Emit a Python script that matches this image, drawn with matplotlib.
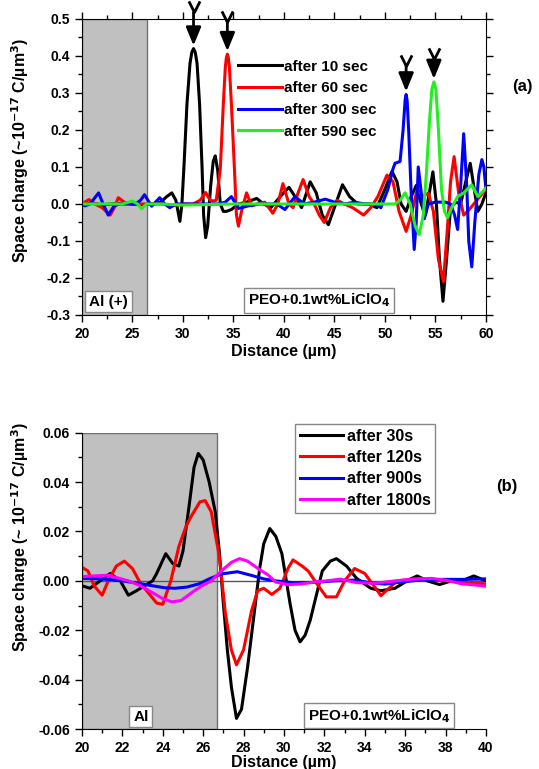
import matplotlib
matplotlib.use('Agg')
import matplotlib.pyplot as plt
from matplotlib.path import Path
from matplotlib.ticker import MultipleLocator, FormatStrFormatter

plt.rcParams['font.family'] = ['Liberation Sans', 'DejaVu Sans']
plt.rcParams['font.weight'] = 'bold'
plt.rcParams['axes.labelweight'] = 'bold'
plt.rcParams['axes.unicode_minus'] = False
plt.rcParams['mathtext.default'] = 'bf'

# ---- panel (a) data ----
labels_a = ['after 10 sec', 'after 60 sec', 'after 300 sec', 'after 590 sec']

x_a10 = [20, 21, 22, 23, 24, 25, 26, 27, 27.8, 28.4, 28.9, 29.3, 29.7, 29.9, 30.1, 30.4, 30.7,
         30.88, 31.05, 31.22, 31.4, 31.65, 31.9, 32.05, 32.25, 32.45, 32.75, 33.0, 33.2, 33.45,
         33.7, 34.0, 34.3, 34.8, 35.5, 36.3, 37.3, 38.0, 38.7, 39.8, 40.5, 41.1, 41.75, 42.6,
         43.2, 43.8, 44.4, 45.0, 45.8, 46.5, 47.3, 48.4, 49.2, 50.0, 50.7, 51.2, 51.6, 52.1,
         52.6, 53.1, 53.6, 54.0, 54.4, 54.75, 55.1, 55.4, 55.75, 56.1, 56.5, 57.0, 57.5, 58.0,
         58.45, 58.9, 59.2, 59.6, 60]
y_a10 = [0.0, 0.002, -0.002, 0.0, 0.002, 0.0, -0.002, 0.0, 0.005, 0.02, 0.03, 0.01, -0.047,
         0.0, 0.1, 0.27, 0.38, 0.41, 0.42, 0.41, 0.38, 0.27, 0.095, -0.03, -0.091, -0.06, 0.05,
         0.115, 0.13, 0.09, 0.0, -0.02, -0.02, -0.015, 0.0, 0.005, 0.015, 0.0, -0.01, 0.025,
         0.045, 0.02, -0.01, 0.06, 0.03, -0.03, -0.056, -0.01, 0.052, 0.02, 0.0, 0.0, -0.01,
         0.04, 0.088, 0.06, 0.0, -0.02, 0.02, 0.05, 0.0, -0.03, 0.03, 0.087, 0.0, -0.15, -0.263,
         -0.15, -0.01, 0.005, 0.0, 0.06, 0.11, 0.03, -0.02, 0.0, 0.03]

x_a60 = [20, 20.7, 21.3, 22.0, 22.8, 23.2, 23.6, 24.2, 25, 26, 27, 28, 29, 30, 31, 31.7,
         32.25, 32.7, 33.0, 33.3, 33.7, 34.0, 34.2, 34.3, 34.4, 34.5, 34.6, 34.8, 35.1, 35.3,
         35.5, 35.8, 36.3, 36.8, 37.4, 38.1, 38.9, 39.4, 39.9, 40.5, 40.9, 41.4, 41.9, 42.5,
         43.0, 43.5, 44.0, 44.6, 45.3, 46.0, 46.8, 47.9, 48.6, 49.3, 50.2, 50.8, 51.4, 52.1,
         52.6, 53.2, 53.8, 54.3, 54.8, 55.3, 55.8, 56.2, 56.5, 56.85, 57.3, 57.8, 58.2, 58.8,
         59.4, 60]
y_a60 = [0.0, 0.012, 0.0, -0.01, -0.03, -0.01, 0.017, 0.005, 0.0, 0.0, 0.0, 0.0, -0.005, 0.0,
         0.0, 0.01, 0.031, 0.01, 0.008, 0.01, 0.095, 0.27, 0.37, 0.395, 0.405, 0.395, 0.37,
         0.27, 0.095, -0.03, -0.06, -0.02, 0.03, -0.005, 0.0, 0.005, -0.025, 0.0, 0.055, 0.0,
         -0.01, 0.03, 0.066, 0.02, 0.0, -0.03, -0.05, -0.01, 0.01, 0.0, -0.01, -0.03, -0.01,
         0.02, 0.078, 0.06, -0.02, -0.074, -0.03, 0.04, 0.02, 0.03, -0.02, -0.15, -0.21, -0.06,
         0.06, 0.128, 0.03, -0.03, -0.02, 0.0, 0.02, 0.04]

x_a300 = [20, 20.3, 20.8, 21.65, 22.1, 22.6, 23.2, 23.7, 24.5, 25.3, 25.8, 26.2, 26.9, 27.7,
          28.2, 28.7, 29.3, 30.5, 31.5, 32.5, 33.5, 34.2, 34.8, 35.5, 36.5, 37.5, 38.5, 39.3,
          40.1, 41.1, 42.0, 43.0, 44.1, 45.0, 46.0, 47.0, 48.0, 49.0, 49.6, 50.3, 50.8, 51.0,
          51.5, 51.8, 52.0, 52.1, 52.2, 52.35, 52.6, 52.9, 53.1, 53.3, 53.6, 53.9, 54.3, 55.0,
          56.0, 56.5, 56.9, 57.2, 57.5, 57.8, 58.1, 58.3, 58.6, 58.9, 59.3, 59.6, 59.8, 60]
y_a300 = [0.0, -0.005, 0.0, 0.03, 0.0, -0.03, -0.005, 0.0, 0.0, 0.0, 0.01, 0.025, -0.006, 0.017,
          0.0, -0.01, 0.0, 0.0, 0.0, 0.0, 0.0, 0.005, 0.02, -0.012, -0.005, 0.0, 0.0, 0.0,
          -0.015, 0.02, 0.0, 0.005, 0.013, 0.005, 0.0, 0.005, 0.0, 0.0, -0.01, 0.04, 0.095, 0.11,
          0.115, 0.2, 0.28, 0.296, 0.28, 0.2, 0.03, -0.123, -0.05, 0.1, 0.03, -0.04, 0.0, 0.005,
          0.005, 0.0, -0.03, -0.069, 0.05, 0.19, 0.05, -0.1, -0.17, -0.05, 0.08, 0.12, 0.1, 0.04]

x_a590 = [20, 22, 24, 25.0, 25.5, 25.9, 26.4, 28, 30, 35, 40, 45, 50, 51.0, 51.5, 52.0, 52.5,
          53.0, 53.4, 53.8, 54.1, 54.4, 54.65, 54.85, 55.05, 55.3, 55.6, 55.9, 56.2, 56.6, 57.2,
          57.8, 58.6, 59.2, 60]
y_a590 = [0.0, 0.0, 0.0, 0.008, 0.0, -0.013, 0.0, 0.0, -0.003, 0.0, 0.0, 0.0, 0.0, 0.0, 0.01,
          0.03, 0.0, -0.06, -0.083, -0.03, 0.08, 0.22, 0.31, 0.33, 0.31, 0.2, 0.04, -0.02, -0.037,
          -0.01, 0.02, 0.03, 0.052, 0.02, 0.043]

# ---- panel (b) data ----
labels_b = ['after 30s', 'after 120s', 'after 900s', 'after 1800s']

x_b30 = [20, 20.4, 20.9, 21.4, 21.9, 22.3, 22.7, 23.1, 23.5, 23.7, 24.15, 24.5, 24.8, 25.0,
         25.3, 25.55, 25.76, 26.0, 26.3, 26.6, 26.8, 27.0, 27.2, 27.4, 27.65, 27.9, 28.2, 28.5,
         28.8, 29.0, 29.3, 29.6, 29.9, 30.3, 30.55, 30.8, 31.05, 31.3, 31.6, 31.9, 32.3, 32.6,
         33.1, 33.6, 34.3, 34.8, 35.5, 36.2, 36.6, 37.1, 37.7, 38.3, 38.8, 39.4, 40]
y_b30 = [-0.002, -0.003, 0.0, 0.003, 0.0, -0.0058, -0.004, -0.002, 0.0, 0.003, 0.011, 0.007,
         0.006, 0.012, 0.03, 0.046, 0.0516, 0.049, 0.04, 0.028, 0.012, -0.009, -0.028, -0.043,
         -0.0557, -0.052, -0.035, -0.015, 0.005, 0.015, 0.0212, 0.018, 0.011, -0.009, -0.02,
         -0.0247, -0.022, -0.016, -0.006, 0.004, 0.008, 0.009, 0.006, 0.001, -0.003, -0.004,
         -0.003, 0.0005, 0.002, 0.0, -0.0015, 0.0, 0.0, 0.002, 0.0]

x_b120 = [20, 20.3, 20.6, 21.0, 21.3, 21.7, 22.1, 22.5, 22.9, 23.3, 23.7, 24.0, 24.4, 24.8,
          25.15, 25.4, 25.84, 26.1, 26.4, 26.8, 27.1, 27.4, 27.65, 28.0, 28.4, 28.7, 29.0, 29.4,
          29.8, 30.2, 30.45, 30.9, 31.2, 31.7, 32.1, 32.6, 33.0, 33.5, 34.0, 34.5, 34.8, 35.2,
          35.6, 36.6, 37.6, 38.8, 40]
y_b120 = [0.0055, 0.004, -0.002, -0.0058, 0.0, 0.006, 0.008, 0.005, -0.001, -0.005, -0.009,
          -0.0095, 0.0, 0.014, 0.022, 0.026, 0.032, 0.0325, 0.028, 0.01, -0.013, -0.028, -0.034,
          -0.028, -0.012, -0.004, -0.003, -0.0055, -0.003, 0.005, 0.0085, 0.006, 0.004, -0.002,
          -0.0065, -0.0065, 0.0, 0.005, 0.003, -0.0025, -0.006, -0.003, 0.0, 0.0008, 0.0005,
          -0.0005, -0.0012]

x_b900 = [20, 21, 22, 22.8, 23.5, 24.1, 24.6, 25.2, 25.8, 26.3, 26.9, 27.7, 28.4, 29.0, 29.6,
          30.5, 31.5, 32.5, 33.5, 34.3, 35.0, 35.8, 36.8, 37.9, 39.0, 40]
y_b900 = [0.001, 0.0008, 0.0, -0.001, -0.002, -0.0028, -0.003, -0.0025, -0.0012, 0.0008, 0.0028,
          0.0037, 0.0022, 0.0008, 0.0, -0.0008, -0.0006, 0.0, 0.0003, -0.0008, -0.0013, -0.0005,
          0.0004, 0.0006, 0.0006, 0.0008]

x_b1800 = [20, 20.6, 21.3, 22.3, 22.9, 23.5, 24.0, 24.45, 24.9, 25.4, 25.9, 26.4, 26.9, 27.4,
           27.8, 28.2, 28.8, 29.2, 29.6, 30.2, 30.8, 31.5, 32.1, 32.8, 33.6, 34.5, 35.5, 36.4,
           37.3, 38.0, 38.8, 39.4, 40]
y_b1800 = [0.0017, 0.002, 0.0023, 0.0, -0.002, -0.0048, -0.0072, -0.0085, -0.008, -0.005,
           -0.0022, 0.0, 0.004, 0.0075, 0.009, 0.008, 0.0045, 0.0025, -0.0005, -0.0015, -0.0013,
           -0.0005, 0.0, 0.0007, -0.0007, -0.001, 0.0, 0.0007, 0.001, 0.0003, -0.0012, -0.0016,
           -0.0022]

colors_a = ['black', '#ff0000', '#0000ff', '#22ee22']
colors_b = ['black', '#ff0000', '#0000ff', '#ff00ff']

fig = plt.figure(figsize=(5.39, 7.69), dpi=100)
ax1 = fig.add_axes([0.152, 0.5904, 0.7495, 0.3849])
ax2 = fig.add_axes([0.152, 0.052, 0.7495, 0.3853])

box = dict(boxstyle='square,pad=0.25', facecolor='white', edgecolor='#888888', lw=1)

# ---- panel (a) ----
ax1.axvspan(20, 26.4, facecolor='#c0c0c0', edgecolor='#707070', lw=1, zorder=0)
series_a = [(x_a10, y_a10), (x_a60, y_a60), (x_a300, y_a300), (x_a590, y_a590)]
for (xs, ys), c, lab in zip(series_a, colors_a, labels_a):
    ax1.plot(xs, ys, color=c, lw=2.2, label=lab)

# arrows over the main peaks
arrow_len = [0.09, 0.08, 0.07, 0.055]
vmark = Path([(-0.5, 1), (0, 0), (0.5, 1)], [Path.MOVETO, Path.LINETO, Path.LINETO])
for (xs, ys), L in zip(series_a, arrow_len):
    i = ys.index(max(ys))
    tip = ys[i] + 0.008
    ax1.annotate('', xy=(xs[i], tip), xytext=(xs[i], tip + L),
                 arrowprops=dict(arrowstyle='-|>,head_length=1.1,head_width=0.45',
                                 color='black', lw=2, shrinkA=0, shrinkB=0),
                 annotation_clip=False)
    ax1.plot(xs[i], tip + L, marker=vmark, ms=16, mew=2, mfc='none', mec='black',
             clip_on=False)

ax1.set_xlim(20, 60)
ax1.set_ylim(-0.3, 0.5)
ax1.xaxis.set_major_locator(MultipleLocator(5))
ax1.xaxis.set_minor_locator(MultipleLocator(2.5))
ax1.yaxis.set_major_locator(MultipleLocator(0.1))
ax1.yaxis.set_minor_locator(MultipleLocator(0.05))
ax1.yaxis.set_major_formatter(FormatStrFormatter('%.1f'))
ax1.tick_params(which='both', direction='out', top=True, right=True, labelsize=10, width=1)
ax1.tick_params(which='major', length=5)
ax1.tick_params(which='minor', length=3)
ax1.set_xlabel('Distance (µm)', fontsize=11.5, labelpad=2)
ax1.set_ylabel('Space charge (~10$^{-17}$ C/µm$^3$)', fontsize=11.5)
ax1.yaxis.set_label_coords(-0.125, 0.557)
ax1.legend(loc='upper left', bbox_to_anchor=(0.386, 0.862), frameon=False, fontsize=11,
           borderpad=0, borderaxespad=0, handlelength=2.9, handletextpad=0.15,
           labelspacing=0.5)
ax1.text(0.066, 0.045, 'Al (+)', transform=ax1.transAxes, ha='center', va='center',
         fontsize=11, bbox=box)
ax1.text(0.587, 0.05, 'PEO+0.1wt%LiClO$_4$', transform=ax1.transAxes, ha='center',
         va='center', fontsize=11, bbox=box)
fig.text(0.970, 0.887, '(a)', ha='center', va='center', fontsize=12)

# ---- panel (b) ----
ax2.axvspan(20, 26.7, facecolor='#c0c0c0', edgecolor='#707070', lw=1, zorder=0)
ax2.axhline(0, color='#555555', lw=1, zorder=1)
series_b = [(x_b30, y_b30), (x_b120, y_b120), (x_b900, y_b900), (x_b1800, y_b1800)]
for (xs, ys), c, lab in zip(series_b, colors_b, labels_b):
    ax2.plot(xs, ys, color=c, lw=2.2, label=lab)

ax2.set_xlim(20, 40)
ax2.set_ylim(-0.06, 0.06)
ax2.spines['top'].set_visible(False)
ax2.spines['right'].set_visible(False)
ax2.xaxis.set_major_locator(MultipleLocator(2))
ax2.xaxis.set_minor_locator(MultipleLocator(1))
ax2.yaxis.set_major_locator(MultipleLocator(0.02))
ax2.yaxis.set_minor_locator(MultipleLocator(0.01))
ax2.yaxis.set_major_formatter(FormatStrFormatter('%.2f'))
ax2.tick_params(which='both', direction='out', labelsize=10, width=1)
ax2.tick_params(which='major', length=5)
ax2.tick_params(which='minor', length=3)
ax2.set_xlabel('Distance (µm)', fontsize=11.5, labelpad=0)
ax2.set_ylabel('Space charge (~ 10$^{-17}$ C/µm$^3$)', fontsize=11.5)
ax2.yaxis.set_label_coords(-0.125, 0.648)
leg = ax2.legend(loc='upper left', bbox_to_anchor=(0.527, 1.03), fontsize=11.5, fancybox=False,
                 framealpha=1, edgecolor='#888888', borderpad=0.3, borderaxespad=0,
                 handlelength=2.7, handletextpad=0.25, labelspacing=0.4)
leg.get_frame().set_linewidth(1)
ax2.text(0.146, 0.042, 'Al', transform=ax2.transAxes, ha='center', va='center',
         fontsize=11, bbox=box)
ax2.text(0.736, 0.045, 'PEO+0.1wt%LiClO$_4$', transform=ax2.transAxes, ha='center',
         va='center', fontsize=11, bbox=box)
fig.text(0.941, 0.367, '(b)', ha='center', va='center', fontsize=12)

fig.savefig('out.png', dpi=100)
